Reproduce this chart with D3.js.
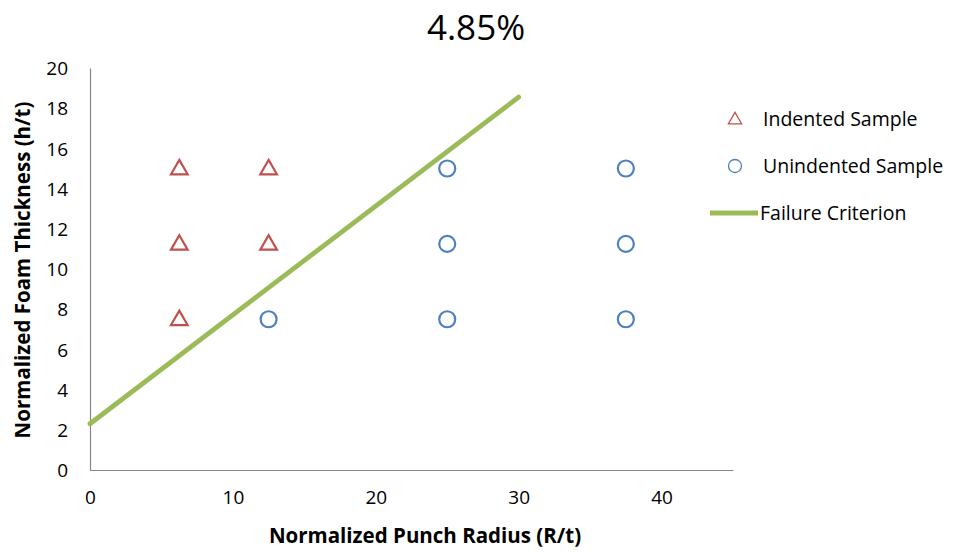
<!DOCTYPE html>
<html>
<head>
<meta charset="utf-8">
<script src="https://cdn.jsdelivr.net/npm/d3@7"></script>
<style>
  body { margin: 0; background: #fff; }
  svg { display: block; font-family: "Open Sans", "Liberation Sans", sans-serif; }
</style>
</head>
<body>
<svg id="chart" width="954" height="552"></svg>
<script>
// Sample points: normalized punch radius (R/t) vs normalized foam thickness (h/t)
const indentedX = [6.25, 6.25, 6.25, 12.5, 12.5];
const indentedY = [15, 11.25, 7.5, 15, 11.25];
const unindentedX = [12.5, 25, 25, 25, 37.5, 37.5, 37.5];
const unindentedY = [7.5, 15, 11.25, 7.5, 15, 11.25, 7.5];
// Failure criterion line endpoints
const criterionX = [0, 30];
const criterionY = [2.3, 18.55];
const xTicks = [0, 10, 20, 30, 40];
const yTicks = [0, 2, 4, 6, 8, 10, 12, 14, 16, 18, 20];

const svg = d3.select("#chart");
const x = d3.scaleLinear().domain([0, 45]).range([90, 733]);
const y = d3.scaleLinear().domain([0, 20]).range([470, 68]);

const red = "#c0504d", blue = "#4f81bd", green = "#9bbb59", axisGray = "#868686";

// Axes (no tick marks, labels only)
const xAxis = svg.append("g").attr("transform", `translate(0,${y(0)})`)
  .call(d3.axisBottom(x).tickValues(xTicks).tickSize(0).tickPadding(21));
const yAxis = svg.append("g").attr("transform", `translate(${x(0)},0)`)
  .call(d3.axisLeft(y).tickValues(yTicks).tickSize(0).tickPadding(22));
[xAxis, yAxis].forEach(g => {
  g.select(".domain").attr("stroke", axisGray).attr("stroke-width", 1.2);
  g.selectAll("text").attr("font-size", 19).attr("fill", "#000")
    .attr("font-family", "'Open Sans', 'Liberation Sans', sans-serif");
});
yAxis.selectAll("text").attr("dy", "0.35em");

// Failure criterion
svg.append("line")
  .attr("x1", x(criterionX[0])).attr("y1", y(criterionY[0]))
  .attr("x2", x(criterionX[1])).attr("y2", y(criterionY[1]))
  .attr("stroke", green).attr("stroke-width", 4.8).attr("stroke-linecap", "round");

const tri = d3.symbol().type(d3.symbolTriangle).size(120);

svg.append("g").selectAll("path")
  .data(d3.zip(indentedX, indentedY))
  .join("path")
  .attr("d", tri)
  .attr("transform", d => `translate(${x(d[0])},${y(d[1]) + 1})`)
  .attr("fill", "none").attr("stroke", red).attr("stroke-width", 2.2);

svg.append("g").selectAll("circle")
  .data(d3.zip(unindentedX, unindentedY))
  .join("circle")
  .attr("cx", d => x(d[0])).attr("cy", d => y(d[1]))
  .attr("r", 8).attr("fill", "none").attr("stroke", blue).attr("stroke-width", 2.2);

// Title
svg.append("text").attr("x", 476).attr("y", 40).attr("text-anchor", "middle")
  .attr("font-size", 35).attr("fill", "#000").text("4.85%");

// Axis titles
svg.append("text").attr("x", 425).attr("y", 543).attr("text-anchor", "middle")
  .attr("font-size", 20.5).attr("font-weight", "bold").attr("fill", "#000")
  .text("Normalized Punch Radius (R/t)");
svg.append("text").attr("transform", "translate(30,270) rotate(-90)")
  .attr("text-anchor", "middle").attr("font-size", 20.5).attr("font-weight", "bold")
  .attr("fill", "#000").text("Normalized Foam Thickness (h/t)");

// Legend
const lg = svg.append("g");
lg.append("path").attr("d", d3.symbol().type(d3.symbolTriangle).size(75))
  .attr("transform", "translate(735,120)")
  .attr("fill", "none").attr("stroke", red).attr("stroke-width", 1.3);
lg.append("circle").attr("cx", 735).attr("cy", 166).attr("r", 6.5)
  .attr("fill", "none").attr("stroke", blue).attr("stroke-width", 1.3);
lg.append("line").attr("x1", 710).attr("x2", 758).attr("y1", 213).attr("y2", 213)
  .attr("stroke", green).attr("stroke-width", 4.8);
const legendText = ["Indented Sample", "Unindented Sample", "Failure Criterion"];
lg.selectAll("text").data(legendText).join("text")
  .attr("x", d => d === "Failure Criterion" ? 760 : 763)
  .attr("y", (d, i) => 119 + i * 47).attr("dy", "0.35em")
  .attr("font-size", 19.5).attr("fill", "#000").text(d => d);
</script>
</body>
</html>
